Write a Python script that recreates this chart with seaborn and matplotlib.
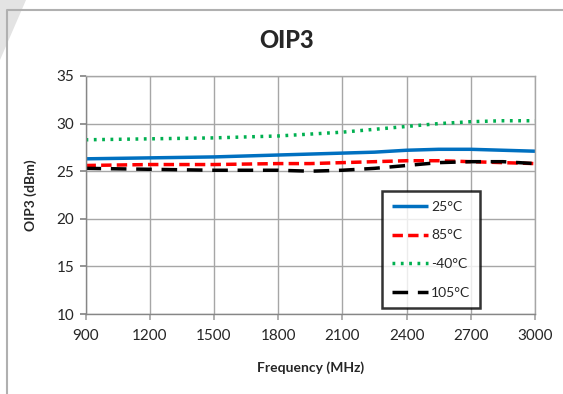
import matplotlib
matplotlib.use("Agg")
import matplotlib.pyplot as plt
import seaborn as sns
import pandas as pd
from matplotlib.patches import Polygon
from matplotlib.lines import Line2D

freq = [900, 1200, 1500, 1800, 1950, 2100, 2250, 2400, 2550, 2700, 2850, 3000]
oip3_25 = [26.3, 26.4, 26.5, 26.7, 26.8, 26.9, 27.0, 27.2, 27.3, 27.3, 27.2, 27.1]
oip3_85 = [25.6, 25.7, 25.7, 25.8, 25.8, 25.9, 26.0, 26.1, 26.1, 26.0, 25.9, 25.8]
oip3_m40 = [28.3, 28.4, 28.5, 28.7, 28.9, 29.1, 29.4, 29.7, 30.0, 30.2, 30.3, 30.3]
oip3_105 = [25.3, 25.2, 25.1, 25.1, 25.0, 25.1, 25.3, 25.6, 25.9, 26.0, 26.0, 25.8]
labels = ["25°C", "85°C", "-40°C", "105°C"]
xticks = [900, 1200, 1500, 1800, 2100, 2400, 2700, 3000]
yticks = [10, 15, 20, 25, 30, 35]

sns.set_theme(style="white")
plt.rcParams['font.family'] = ['Lato', 'DejaVu Sans']

rows = []
for lab, vals in zip(labels, [oip3_25, oip3_85, oip3_m40, oip3_105]):
    for f, v in zip(freq, vals):
        rows.append({"Frequency": f, "OIP3": v, "Temp": lab})
df = pd.DataFrame(rows)

W, H = 563, 394
fig = plt.figure(figsize=(5.63, 3.94), dpi=100)
ax = fig.add_axes([85.5 / W, 1 - 314 / H, (535 - 85.5) / W, (314 - 76) / H])

colors = {"25°C": "#0070C0", "85°C": "#FF0000", "-40°C": "#00B050", "105°C": "#000000"}
styles = {"25°C": "-", "85°C": (0, (3, 1.5)), "-40°C": (0, (0.8, 1.6)), "105°C": (0, (4.5, 2.8))}

for lab in labels:
    sub = df[df.Temp == lab]
    sns.lineplot(data=sub, x="Frequency", y="OIP3", ax=ax, color=colors[lab],
                 linewidth=2.5, label=lab, linestyle=styles[lab],
                 solid_capstyle="butt", dash_capstyle="butt")

ax.set_xlim(900, 3000)
ax.set_ylim(10, 35)
ax.set_xticks(xticks)
ax.set_yticks(yticks)
ax.grid(True, color="#A6A6A6", linewidth=1)
ax.set_axisbelow(True)
for s in ax.spines.values():
    s.set_color("#A6A6A6")
    s.set_linewidth(1)
ax.spines["left"].set_color("#868686")
ax.spines["bottom"].set_color("#868686")
ax.tick_params(axis="y", which="both", left=True, length=4, color="#868686", labelsize=11, pad=4)
ax.tick_params(axis="x", which="both", bottom=True, length=4, color="#A6A6A6", labelsize=11, pad=7)

ax.set_xlabel("Frequency (MHz)", fontsize=10, fontweight="bold", labelpad=13)
ax.set_ylabel("OIP3 (dBm)", fontsize=10, fontweight="bold", labelpad=14)
fig.text(287 / W, 1 - 40 / H, "OIP3", ha="center", va="center", fontsize=17, fontweight="black")

leg = ax.legend(loc="upper left", bbox_to_anchor=((382 - 85.5) / 449.5, (314 - 191) / 238),
                frameon=True, fancybox=False,
                fontsize=10, handlelength=2.6, labelspacing=1.2, borderpad=0.7,
                handletextpad=0.25, borderaxespad=0)
leg.get_frame().set_edgecolor("black")
leg.get_frame().set_linewidth(1.8)

fig.patches.append(Polygon([(0, 1), (26 / W, 1), (0, 1 - 60 / H)], closed=True,
                           transform=fig.transFigure, facecolor="#E3E3E3", edgecolor="none",
                           zorder=-10))
bx, by = 6.5 / W, 1 - 10 / H
fig.lines.append(Line2D([bx, bx, 1.0], [0, by, by], transform=fig.transFigure,
                        color="#B0B0B0", linewidth=1.5, zorder=-5))

fig.savefig("out.png", dpi=100)
